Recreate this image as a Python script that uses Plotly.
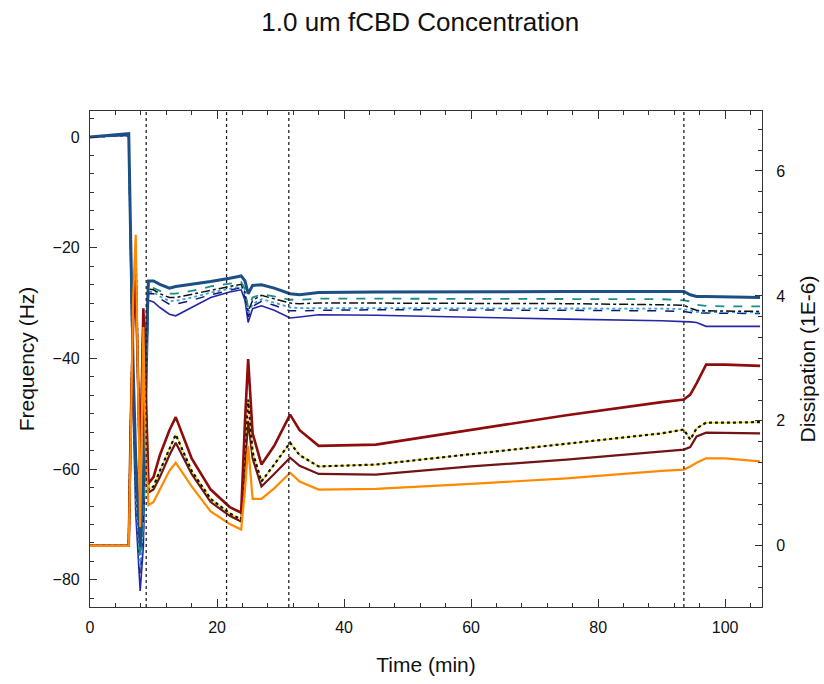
import plotly.graph_objects as go

# ---- data ----
time_min = [0, 6.1, 6.4, 6.8, 7.2, 7.9, 8.4, 8.8, 9.2, 10, 11, 12.5, 13.5, 16, 19, 22, 23.8, 24.4, 24.9, 25.6,
            27, 29, 31.5, 33, 36, 45, 60, 75, 90, 93.5, 94.5, 95.5, 97, 100, 105.5]

freq_1 = [0.0, 0.6, -18, -42, -58, -74, -62, -38, -26.0, -26.0, -26.6, -27.3, -27.0, -26.6, -26.1, -25.5, -25.1, -26.0, -28.3, -26.8,
          -26.7, -27.3, -28.3, -28.5, -28.1, -28.0, -27.9, -27.9, -27.9, -27.9, -28.5, -28.8, -28.8, -28.9, -29.0]
freq_2 = [0.0, 0.4, -20, -45, -62, -76, -70, -45, -27.0, -27.3, -27.8, -28.3, -28.3, -27.8, -27.0, -26.5, -26.2, -27.5, -30.9, -29.0,
          -28.4, -28.8, -29.4, -29.4, -29.2, -29.2, -29.2, -29.2, -29.3, -29.5, -29.7, -30.3, -30.5, -30.6, -30.6]
freq_3 = [0.0, 0.3, -20, -46, -63, -75, -68, -42, -27.5, -27.6, -28.3, -29.0, -29.0, -28.4, -27.6, -27.0, -26.6, -28.0, -31.5, -29.5,
          -28.6, -29.2, -30.0, -30.1, -30.0, -30.0, -30.0, -30.1, -30.3, -30.4, -30.9, -31.3, -31.4, -31.4, -31.5]
freq_4 = [0.0, 0.3, -22, -48, -65, -78, -70, -45, -28.0, -28.0, -28.8, -29.6, -29.6, -29.0, -28.1, -27.4, -27.0, -28.5, -32.0, -30.2,
          -29.3, -29.9, -30.8, -30.9, -30.9, -30.9, -30.9, -31.0, -31.0, -31.1, -31.4, -31.6, -31.6, -31.6, -31.7]
freq_5 = [0.0, 0.3, -21, -47, -64, -79, -72, -46, -28.3, -28.3, -29.2, -30.2, -30.2, -29.5, -28.5, -27.7, -27.2, -29.0, -32.5, -30.6,
          -29.7, -30.4, -31.4, -31.4, -31.3, -31.2, -31.2, -31.3, -31.4, -31.5, -31.7, -31.8, -31.8, -31.8, -31.9]
freq_6 = [0.0, 0.3, -22, -50, -68, -82, -74, -48, -29.5, -29.8, -30.8, -32.0, -32.3, -30.8, -29.0, -28.0, -27.6, -29.5, -33.5, -31.0,
          -30.5, -31.3, -32.7, -32.5, -32.1, -32.2, -32.6, -32.9, -33.2, -33.3, -33.4, -33.5, -34.2, -34.2, -34.2]

diss_1 = [0.0, 0.0, 1.9, 3.6, 4.25, 1.2, 3.8, 2.4, 1.0, 1.1, 1.45, 1.85, 2.06, 1.4, 0.9, 0.62, 0.53, 2.0, 2.99, 1.8,
          1.3, 1.6, 2.1, 1.85, 1.6, 1.62, 1.86, 2.09, 2.3, 2.34, 2.42, 2.6, 2.9, 2.9, 2.88]
diss_2 = [0.0, 0.0, 1.8, 3.8, 4.7, 0.8, 3.6, 2.0, 0.9, 0.95, 1.2, 1.55, 1.78, 1.2, 0.75, 0.52, 0.42, 1.6, 2.34, 1.5,
          1.03, 1.3, 1.65, 1.45, 1.27, 1.3, 1.47, 1.63, 1.8, 1.86, 1.7, 1.88, 1.97, 1.97, 1.98]
diss_3 = [0.0, 0.0, 1.7, 3.7, 4.4, 1.0, 3.7, 2.2, 0.85, 0.9, 1.1, 1.45, 1.65, 1.15, 0.7, 0.48, 0.39, 1.3, 2.0, 1.4,
          0.95, 1.15, 1.41, 1.28, 1.15, 1.14, 1.27, 1.38, 1.5, 1.54, 1.58, 1.75, 1.81, 1.81, 1.8]
diss_4 = [0.0, 0.0, 1.6, 4.0, 4.98, 0.3, 3.5, 1.5, 0.65, 0.7, 0.9, 1.2, 1.33, 0.95, 0.55, 0.35, 0.26, 0.9, 1.6, 0.75,
          0.75, 0.92, 1.17, 1.03, 0.9, 0.91, 0.99, 1.08, 1.2, 1.22, 1.27, 1.33, 1.4, 1.4, 1.35]

event_times = [8.85, 21.5, 31.3, 93.5]

x_ticks = [0, 20, 40, 60, 80, 100]
freq_ticks = [0, -20, -40, -60, -80]
diss_ticks = [0, 2, 4, 6]

# ---- figure ----
FONT = "Arial, Liberation Sans, sans-serif"
fig = go.Figure()

freq_series = [
    (freq_6, "#2626a8", "solid", 1.6),
    (freq_5, "#0b1a70", "dash", 1.5),
    (freq_4, "#3b9be0", "dot", 1.8),
    (freq_3, "#111111", "dashdot", 1.5),
    (freq_2, "#1a8c8c", "dash", 1.8),
    (freq_1, "#1c4f86", "solid", 3.0),
]
for ys, col, dash, w in freq_series:
    fig.add_trace(go.Scatter(x=time_min, y=ys, mode="lines", yaxis="y",
                             line=dict(color=col, dash=dash, width=w), showlegend=False))

diss_series = [
    (diss_3, "#701418", "solid", 2.2),
    (diss_2, "#e8e020", "solid", 1.4),
    (diss_2, "#111111", "dot", 2.2),
    (diss_1, "#8e0c0c", "solid", 2.6),
    (diss_4, "#ff8a00", "solid", 2.2),
]
for ys, col, dash, w in diss_series:
    fig.add_trace(go.Scatter(x=time_min, y=ys, mode="lines", yaxis="y2",
                             line=dict(color=col, dash=dash, width=w), showlegend=False))

for t in event_times:
    fig.add_vline(x=t, line=dict(color="#222222", dash="dot", width=1.3))

axis_common = dict(showgrid=False, zeroline=False, showline=True, linecolor="#333333", linewidth=1.2,
                   automargin=False,
                   ticks="inside", tickcolor="#333333", tickfont=dict(family=FONT, size=16, color="#111111"))

fig.update_layout(
    width=824, height=684,
    margin=dict(l=90, r=62, t=111, b=77),
    paper_bgcolor="white", plot_bgcolor="white",
    showlegend=False,
    title=dict(text="1.0 um fCBD Concentration", x=0.51, xanchor="center", y=1 - 22 / 684, yanchor="middle",
               yref="container", font=dict(family=FONT, size=26, color="#111111")),
    xaxis=dict(range=[0, 105.8], tickvals=x_ticks, ticklen=8, mirror="ticks",
               minor=dict(dtick=4, tick0=0, ticks="inside", ticklen=4, tickcolor="#333333"),
               title=dict(text="Time (min)", standoff=22, font=dict(family=FONT, size=21, color="#111111")),
               ticklabelstandoff=6, **axis_common),
    yaxis=dict(range=[-84.9, 4.7], tickvals=freq_ticks, ticklen=7,
               minor=dict(dtick=20 / 6, tick0=0, ticks="inside", ticklen=4, tickcolor="#333333"),
               title=dict(text="Frequency (Hz)", standoff=12, font=dict(family=FONT, size=21, color="#111111")),
               ticklabelstandoff=6, **axis_common),
    yaxis2=dict(range=[-0.98, 6.96], tickvals=diss_ticks, ticklen=7, overlaying="y", side="right",
                minor=dict(dtick=1 / 3, tick0=0, ticks="inside", ticklen=4, tickcolor="#333333"),
                title=dict(text="Dissipation (1E-6)", standoff=16, font=dict(family=FONT, size=21, color="#111111")),
                ticklabelstandoff=10, **axis_common),
)

fig.write_html("out.html")
